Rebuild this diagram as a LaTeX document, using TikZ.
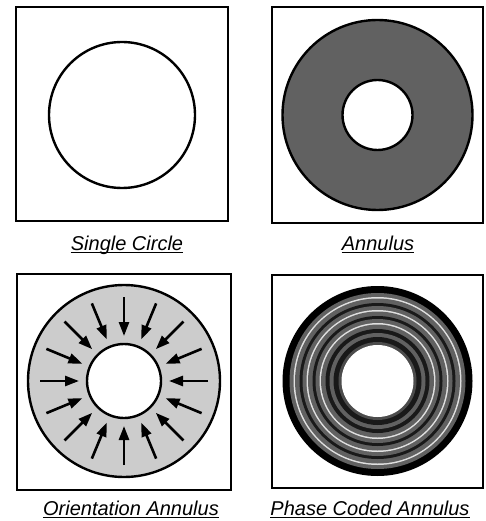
\documentclass[tikz,border=0pt]{standalone}
\usepackage{fontspec}
\setmainfont{Liberation Sans}
\usetikzlibrary{arrows.meta,calc}
\begin{document}
\begin{tikzpicture}[x=1pt,y=-1pt,
  frame/.style={draw=black,line width=2.6pt},
  ring/.style={draw=black,line width=2.4pt},
  lbl/.style={font=\fontsize{20}{22}\selectfont\itshape,inner sep=0pt,anchor=base},
  inarrow/.style={line width=2.6pt,-{Triangle[length=14pt,width=10pt]}}]
\useasboundingbox (0,0) rectangle (485,521);
\fill[white] (0,0) rectangle (485,521);
% frames
\draw[frame] (16,7) rectangle (228,221);
\draw[frame] (272,7) rectangle (483,223);
\draw[frame] (17,274) rectangle (231,490);
\draw[frame] (272,275) rectangle (483,488);
% single circle
\draw[ring] (122,115) circle (73pt);
% annulus
\fill[black!62,even odd rule] (377.5,115) circle (95pt) (377.5,115) circle (35pt);
\draw[ring] (377.5,115) circle (95pt);
\draw[ring] (377.5,115) circle (35pt);
% orientation annulus
\coordinate (oc) at (124,381);
\fill[black!20,even odd rule] (oc) circle (96pt) (oc) circle (37pt);
\draw[ring] (oc) circle (96pt);
\draw[ring] (oc) circle (37pt);
\foreach \a in {0,22.5,...,337.5} {
  \draw[inarrow] ($(oc)+(\a:84pt)$) -- ($(oc)+(\a:45pt)$);
}
% phase coded annulus
\coordinate (pc) at (377.5,381);
\foreach \r/\c in {95/black,88/black!62,84/black!12,82.5/black!62,78/black!90,75/black!62,71/black!12,69.5/black!62,65/black!90,62/black!62,58/black!12,56.5/black!62,52/black!90,48/black!62,44/black!90,39/black!70} {
  \fill[\c] (pc) circle (\r pt);
}
\fill[white] (pc) circle (36pt);
% labels
\node[lbl] (l1) at (127,250) {Single Circle};
\node[lbl] (l2) at (378,250) {Annulus};
\node[lbl] (l3) at (131,515) {Orientation Annulus};
\node[lbl] (l4) at (370,515) {Phase Coded Annulus};
\foreach \n in {l1,l2,l3,l4} {
  \draw[line width=1.2pt] ([yshift=-2.5pt]\n.base west) -- ([yshift=-2.5pt]\n.base east);
}
\end{tikzpicture}
\end{document}
